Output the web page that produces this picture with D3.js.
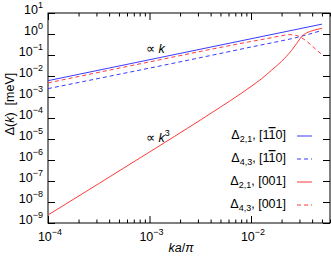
<!DOCTYPE html>
<html>
<head>
<meta charset="utf-8">
<script src="https://cdn.jsdelivr.net/npm/d3@7"></script>
<style>
  body { margin: 0; background: #fff; }
  svg { display: block; font-family: "Liberation Sans", Arial, sans-serif; }
  .tick line { stroke: #000; }
</style>
</head>
<body>
<svg id="chart" width="331" height="263"></svg>
<script>
// values (k in units of pi/a, delta in meV)
var kBlueSolid = [1e-4, 5e-2];
var dBlueSolid = [6.0e-3, 2.95];

var kBlueDash = [1e-4, 1e-2, 3.16e-2, 5e-2];
var dBlueDash = [2.5e-3, 0.24, 0.79, 1.48];

var kRedSolid = [1e-4, 1e-3, 3.16e-3, 5e-3, 7.94e-3, 1e-2, 1.26e-2, 1.58e-2, 2e-2,
                 2.51e-2, 2.82e-2, 3.16e-2, 3.55e-2, 3.98e-2, 4.47e-2, 5e-2];
var dRedSolid = [2.4e-9, 2.4e-6, 7.9e-5, 3.3e-4, 1.45e-3, 3.16e-3, 7.2e-3, 1.82e-2, 5.0e-2,
                 0.166, 0.355, 0.76, 1.15, 1.41, 1.66, 1.86];

var kRedDash = [1e-4, 1e-3, 1e-2, 1.58e-2, 2e-2, 2.4e-2, 2.75e-2, 3.16e-2, 3.55e-2, 3.98e-2, 4.47e-2, 5e-2];
var dRedDash = [4.7e-3, 4.7e-2, 0.44, 0.66, 0.83, 0.93, 0.87, 0.66, 0.44, 0.275, 0.166, 0.105];

var xMajor = [1e-4, 1e-3, 1e-2];
var xMajorExp = ["−4", "−3", "−2"];
var yMajor = [1e1, 1e0, 1e-1, 1e-2, 1e-3, 1e-4, 1e-5, 1e-6, 1e-7, 1e-8, 1e-9];
var yMajorExp = ["1", "0", "−1", "−2", "−3", "−4", "−5", "−6", "−7", "−8", "−9"];

var legendSub = ["2,1", "4,3", "2,1", "4,3"];
var legendDir = ["110", "110", "001", "001"];

var blue = "#3a3aff", red = "#ff3a3a";
var fs = 12.5, fsSup = 9;

// plot box (don't call these top/left: window.top is read-only)
var pL = 48, pR = 330, pT = 13, pB = 223;
var svg = d3.select("#chart");

var x = d3.scaleLog().domain([1e-4, 0.06]).range([pL, pR]);
var y = d3.scaleLog().domain([1e-9, 10]).range([pB, pT]);

// minor x ticks 2..9 per decade
var xMinor = [];
[1e-4, 1e-3, 1e-2].forEach(function(d) {
  for (var m = 2; m <= 9; m++) if (d * m <= 0.06) xMinor.push(d * m);
});

function axisG(axis, tx, ty) {
  var g = svg.append("g").attr("transform", "translate(" + tx + "," + ty + ")").call(axis);
  g.select(".domain").remove();
  g.selectAll("text").remove();
  return g;
}

// ticks pointing inward on all four sides
axisG(d3.axisBottom(x).tickValues(xMajor).tickSize(-7), 0, pB);
axisG(d3.axisBottom(x).tickValues(xMinor).tickSize(-3.5), 0, pB);
axisG(d3.axisTop(x).tickValues(xMajor).tickSize(-7), 0, pT);
axisG(d3.axisTop(x).tickValues(xMinor).tickSize(-3.5), 0, pT);
axisG(d3.axisLeft(y).tickValues(yMajor).tickSize(-7), pL, 0);
axisG(d3.axisRight(y).tickValues(yMajor).tickSize(-7), pR, 0);

svg.append("rect")
  .attr("x", pL).attr("y", pT)
  .attr("width", pR - pL).attr("height", pB - pT)
  .attr("fill", "none").attr("stroke", "#000").attr("stroke-width", 1);

// tick labels
var xl = svg.selectAll(".xl").data(xMajor).enter().append("text")
  .attr("x", function(d) { return x(d) + 2; })
  .attr("y", 241)
  .attr("text-anchor", "middle")
  .attr("font-size", fs);
xl.append("tspan").text("10");
xl.append("tspan").attr("dy", -6).attr("font-size", fsSup).text(function(d, i) { return xMajorExp[i]; });

var yl = svg.selectAll(".yl").data(yMajor).enter().append("text")
  .attr("x", 43)
  .attr("y", function(d) { return y(d) + 0.5; })
  .attr("text-anchor", "end")
  .attr("font-size", fs);
yl.append("tspan").text("10");
yl.append("tspan").attr("dy", -6).attr("font-size", fsSup).text(function(d, i) { return yMajorExp[i]; });

// axis titles
var xt = svg.append("text").attr("x", 181).attr("y", 252).attr("text-anchor", "middle").attr("font-size", fs);
xt.append("tspan").attr("font-style", "italic").text("ka");
xt.append("tspan").text("/");
xt.append("tspan").attr("font-style", "italic").text("π");

var yt = svg.append("text").attr("transform", "translate(14,104) rotate(-90)")
  .attr("text-anchor", "middle").attr("font-size", fs);
yt.append("tspan").text("Δ(");
yt.append("tspan").attr("font-style", "italic").text("k");
yt.append("tspan").text(")\u00a0\u00a0[meV]");

// curves
var line = d3.line()
  .x(function(d) { return x(d[0]); })
  .y(function(d) { return y(d[1]); })
  .curve(d3.curveMonotoneX);

var series = [
  {k: kBlueSolid, d: dBlueSolid, color: blue, dash: null},
  {k: kBlueDash, d: dBlueDash, color: blue, dash: "4,3"},
  {k: kRedSolid, d: dRedSolid, color: red, dash: null},
  {k: kRedDash, d: dRedDash, color: red, dash: "4,3"}
];

svg.append("defs").append("clipPath").attr("id", "clip")
  .append("rect").attr("x", pL).attr("y", pT).attr("width", pR - pL).attr("height", pB - pT);

svg.append("g").attr("clip-path", "url(#clip)")
  .selectAll("path").data(series).enter().append("path")
  .attr("d", function(s) { return line(d3.zip(s.k, s.d)); })
  .style("fill", "none")
  .style("stroke", function(s) { return s.color; })
  .style("stroke-width", 1)
  .style("stroke-dasharray", function(s) { return s.dash; });

// annotations
var a1 = svg.append("text").attr("x", 146).attr("y", 52.5).attr("font-size", fs);
a1.append("tspan").text("∝ ");
a1.append("tspan").attr("font-style", "italic").text("k");

var a2 = svg.append("text").attr("x", 146).attr("y", 141.5).attr("font-size", fs);
a2.append("tspan").text("∝ ");
a2.append("tspan").attr("font-style", "italic").text("k");
a2.append("tspan").attr("dy", -6).attr("font-size", fsSup).text("3");

// legend
var lg = svg.selectAll(".lg").data(series).enter().append("g")
  .attr("class", "lg")
  .attr("transform", function(s, i) { return "translate(0," + (135.5 + i * 23) + ")"; });

lg.append("line")
  .attr("x1", 297).attr("x2", 312)
  .attr("y1", 0.5).attr("y2", 0.5)
  .style("stroke", function(s) { return s.color; })
  .style("stroke-width", 1)
  .style("stroke-dasharray", function(s) { return s.dash; });

var lt = lg.append("text").attr("x", 286).attr("y", 3.5)
  .attr("text-anchor", "end").attr("font-size", fs);
lt.append("tspan").text("Δ");
lt.append("tspan").attr("dy", 3).attr("font-size", fsSup).text(function(s, i) { return legendSub[i]; });
lt.append("tspan").attr("dy", -3).text(", [");
lt.each(function(s, i) {
  var t = d3.select(this);
  if (legendDir[i] === "110") {
    t.append("tspan").text("1");
    t.append("tspan").attr("text-decoration", "overline").text("1");
    t.append("tspan").text("0]");
  } else {
    t.append("tspan").text(legendDir[i] + "]");
  }
});
</script>
</body>
</html>
